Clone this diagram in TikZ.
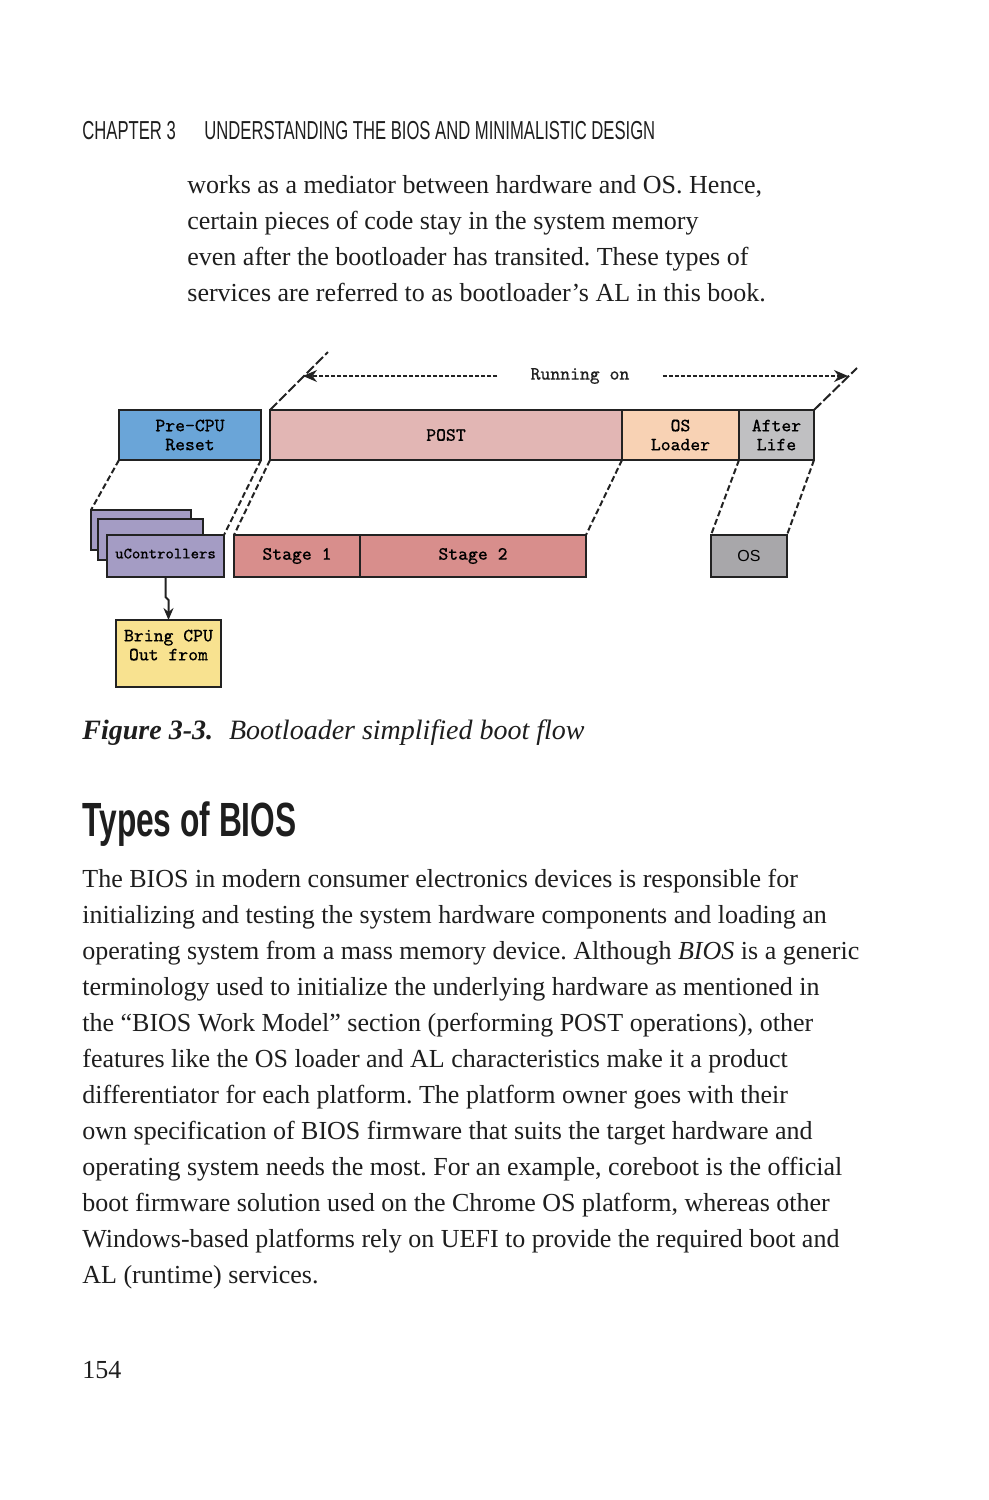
\documentclass[tikz,border=0pt]{standalone}
\usepackage{fontspec}
\usepackage{graphicx}
\setmainfont{Liberation Serif}
\setmonofont[FakeBold=0.35]{Latin Modern Mono}
\setsansfont{Liberation Sans}
\newfontfamily\headfont[FakeStretch=0.64]{Liberation Sans}
\newfontfamily\titlefont[FakeStretch=0.66]{Liberation Sans}
\usetikzlibrary{arrows.meta, positioning, calc}
\definecolor{boxline}{RGB}{34, 34, 34}
\definecolor{precpublue}{RGB}{106, 165, 216}
\definecolor{postpink}{RGB}{226, 182, 180}
\definecolor{loaderpeach}{RGB}{248, 210, 180}
\definecolor{afterlifegray}{RGB}{192, 192, 194}
\definecolor{ucpurple}{RGB}{164, 156, 196}
\definecolor{stagered}{RGB}{216, 142, 140}
\definecolor{osgray}{RGB}{168, 167, 170}
\definecolor{bringyellow}{RGB}{248, 226, 144}
\definecolor{pagetext}{RGB}{30, 30, 30}
\tikzset{
  stagebox/.style={rectangle, draw=boxline, line width=1.2pt, inner sep=0pt, outer sep=0pt,
    align=center, font=\ttfamily\fontsize{9.4}{9.5}\selectfont},
  slantline/.style={line width=1pt, boxline, dash pattern=on 3pt off 1.5pt},
  runarrow/.style={line width=0.7pt, boxline, dash pattern=on 2pt off 1pt, -{Stealth[length=7pt,width=6pt]}},
  bodytext/.style={inner sep=0pt, align=left, text=pagetext, font=\fontsize{13}{18}\selectfont}
}
\frenchspacing
\begin{document}
\begin{tikzpicture}[x=0.5pt, y=-0.5pt]
\fill[white] (0,0) rectangle (989,1500);
\useasboundingbox (0,0) rectangle (989,1500);

% Running header and text above the figure
\node[anchor=base west, inner sep=0pt, text=pagetext, font=\headfont\fontsize{13}{14}\selectfont] (chap) at (82,139) {CHAPTER 3};
\node[anchor=base west, inner sep=0pt, text=pagetext, font=\headfont\fontsize{13}{14}\selectfont] (chaptitle) at (204,139) {UNDERSTANDING THE BIOS AND MINIMALISTIC DESIGN};
\node[bodytext, anchor=north west] (para1) at (187,175) {works as a mediator between hardware and OS. Hence,\\
certain pieces of code stay in the system memory\\
even after the bootloader has transited. These types of\\
services are referred to as bootloader’s AL in this book.};

% Top row: boot phases
\node[stagebox, fill=precpublue, minimum width=71pt, minimum height=25pt] (precpu) at (190,435) {Pre-CPU\\Reset};
\node[stagebox, fill=postpink, minimum width=176pt, minimum height=25pt] (post) at (446,435) {POST};
\node[stagebox, fill=loaderpeach, minimum width=58.5pt, minimum height=25pt, right=0pt of post] (osloader) {OS\\Loader};
\node[stagebox, fill=afterlifegray, minimum width=37.5pt, minimum height=25pt, right=0pt of osloader] (afterlife) {After\\Life};

% Running on
\node[inner xsep=16.5pt, inner ysep=0pt, font=\ttfamily\fontsize{9.4}{10}\selectfont, text=boxline] (run) at (580,376) {Running on};
\coordinate (tickL) at (328,352);
\coordinate (tickR) at (857,368);
\coordinate (runL) at (303,376);
\coordinate (runR) at (848,376);
\draw[slantline, dash pattern=on 5pt off 1.5pt] (post.north west) -- (tickL);
\draw[slantline, dash pattern=on 5pt off 1.5pt] (afterlife.north east) -- (tickR);
\draw[runarrow] (run.west) -- (runL);
\draw[runarrow] (run.east) -- (runR);

% Bottom row
\node[stagebox, fill=ucpurple, minimum width=50pt, minimum height=20pt] (uc1) at (141,530) {};
\node[stagebox, fill=ucpurple, minimum width=52.5pt, minimum height=20.5pt] (uc2) at (150.5,539.5) {};
\node[stagebox, fill=ucpurple, minimum width=58.5pt, minimum height=21pt, text depth=2.5pt, font=\ttfamily\fontsize{7.9}{8}\selectfont] (uc3) at (165.5,556) {uControllers};
\node[stagebox, fill=stagered, minimum width=63pt, minimum height=21pt] (stage1) at (297,556) {Stage 1};
\node[stagebox, fill=stagered, minimum width=113pt, minimum height=21pt, right=0pt of stage1] (stage2) {Stage 2};
\node[stagebox, fill=osgray, minimum width=38pt, minimum height=21pt, font=\sffamily\fontsize{8}{9}\selectfont] (os) at (749,556) {OS};
\node[stagebox, fill=bringyellow, minimum width=52.5pt, minimum height=33.5pt, text depth=8.5pt] (bring) at (168.5,653.5) {Bring CPU\\Out from};

% Expansion lines
\draw[slantline] (precpu.south west) -- (uc1.north west);
\draw[slantline] (precpu.south east) -- (uc3.north east);
\draw[slantline] (post.south west) -- (stage1.north west);
\draw[slantline] (post.south east) -- (stage2.north east);
\draw[slantline] (osloader.south east) -- (os.north west);
\draw[slantline] (afterlife.south east) -- (os.north east);

% uControllers to CPU
\draw[line width=1pt, boxline, -{Stealth[length=6pt,width=5pt]}] (uc3.south) -- ++(0,20) -- ([yshift=10pt]bring.north) -- (bring.north);

% Caption and following section
\node[anchor=base west, inner sep=0pt, text=pagetext, font=\fontsize{14}{16}\selectfont] (caption) at (82,739) {\textbf{\textit{Figure 3-3.}}\hspace{8pt}\textit{Bootloader simplified boot flow}};
\node[anchor=base west, inner sep=0pt, text=pagetext, font=\titlefont\bfseries\fontsize{24}{26}\selectfont] (types) at (82,836) {Types of BIOS};
\node[bodytext, anchor=north west] (para2) at (82,869) {The BIOS in modern consumer electronics devices is responsible for\\
initializing and testing the system hardware components and loading an\\
operating system from a mass memory device. Although \textit{BIOS} is a generic\\
terminology used to initialize the underlying hardware as mentioned in\\
the “BIOS Work Model” section (performing POST operations), other\\
features like the OS loader and AL characteristics make it a product\\
differentiator for each platform. The platform owner goes with their\\
own specification of BIOS firmware that suits the target hardware and\\
operating system needs the most. For an example, coreboot is the official\\
boot firmware solution used on the Chrome OS platform, whereas other\\
Windows-based platforms rely on UEFI to provide the required boot and\\
AL (runtime) services.};
\node[anchor=base west, inner sep=0pt, text=pagetext, font=\fontsize{13}{15}\selectfont] (pagenum) at (82,1378) {154};
\end{tikzpicture}
\end{document}
